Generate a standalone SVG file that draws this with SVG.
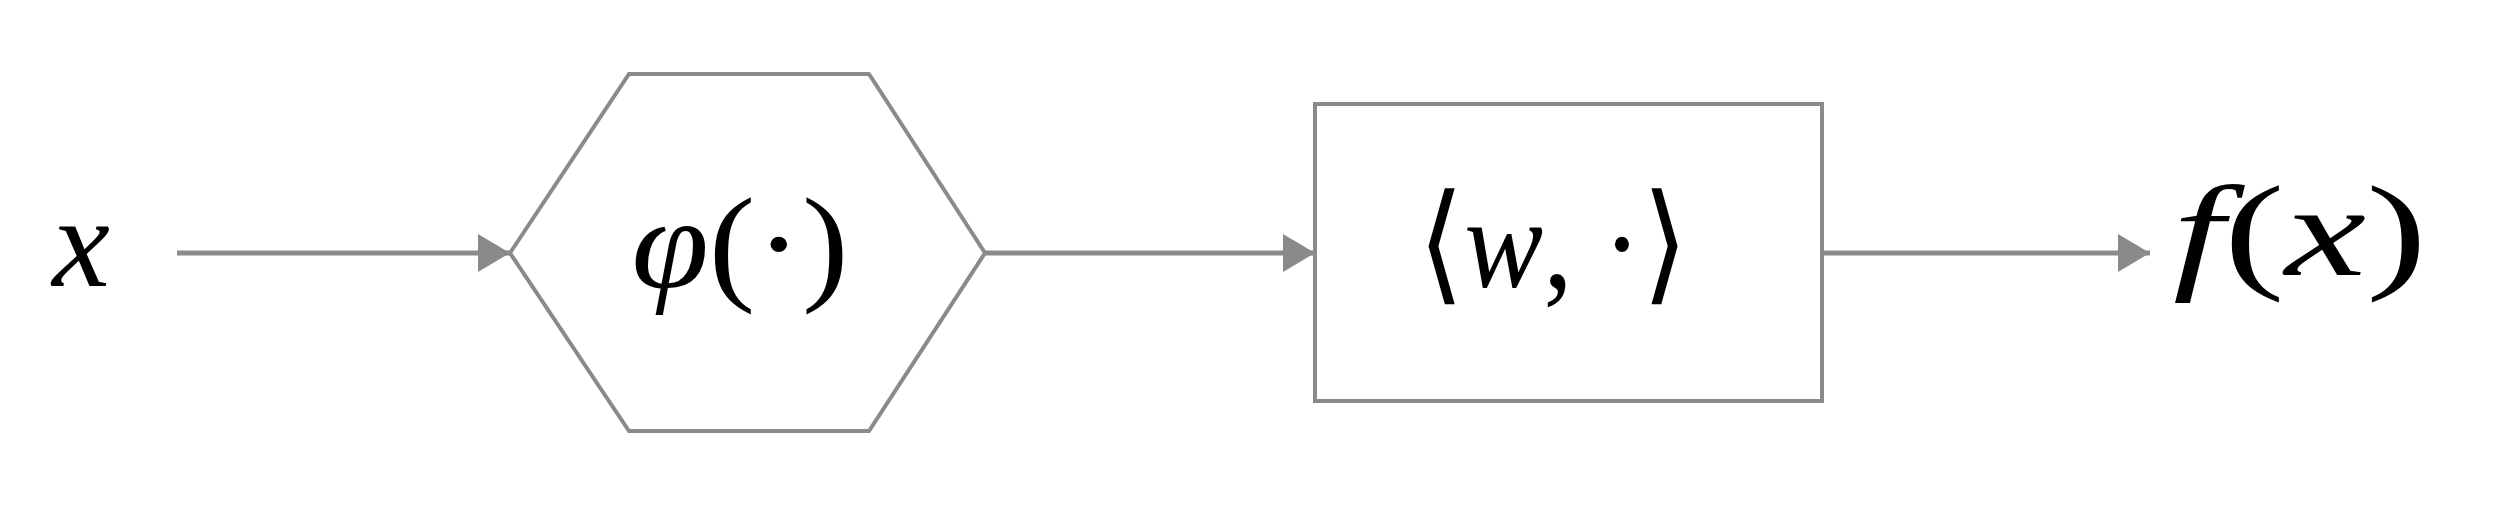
<svg xmlns="http://www.w3.org/2000/svg" width="2500" height="506" viewBox="0 0 2500 506">
<style>
.shape{fill:none;stroke:#8a8a8a;stroke-width:4}
.conn{fill:none;stroke:#8a8a8a;stroke-width:5}
.t{font-family:'Liberation Serif',serif;font-size:130px;fill:#000}
.i{font-style:italic}
</style>
<defs>
<marker id="arr" markerUnits="userSpaceOnUse" markerWidth="34" markerHeight="40" refX="32" refY="20" orient="auto">
<path d="M0,1 L32,20 L0,39 Z" fill="#8a8a8a"/>
</marker>
</defs>
<rect width="2500" height="506" fill="#fff"/>
<g id="connectors">
<line class="conn" x1="177" y1="253" x2="510" y2="253" marker-end="url(#arr)"/>
<line class="conn" x1="985" y1="253" x2="1315" y2="253" marker-end="url(#arr)"/>
<line class="conn" x1="1822" y1="253" x2="2150" y2="253" marker-end="url(#arr)"/>
</g>
<g id="input">
<text class="t i" x="81" y="286" text-anchor="middle">x</text>
</g>
<g id="phi">
<polygon class="shape" points="510,253 629,74 869,74 985,253 869,431 629,431"/>
<text class="t" x="740" y="287" text-anchor="middle" textLength="217" lengthAdjust="spacingAndGlyphs"><tspan class="i">φ</tspan>(·)</text>
</g>
<g id="inner">
<rect class="shape" x="1315" y="104" width="507" height="297"/>
<text class="t" x="1553" y="287" text-anchor="middle" textLength="270" lengthAdjust="spacingAndGlyphs">⟨<tspan class="i">w</tspan>, ·⟩</text>
</g>
<g id="output">
<text class="t" x="2300" y="275" text-anchor="middle" textLength="254" lengthAdjust="spacingAndGlyphs"><tspan class="i">f</tspan>(<tspan class="i">x</tspan>)</text>
</g>
</svg>
